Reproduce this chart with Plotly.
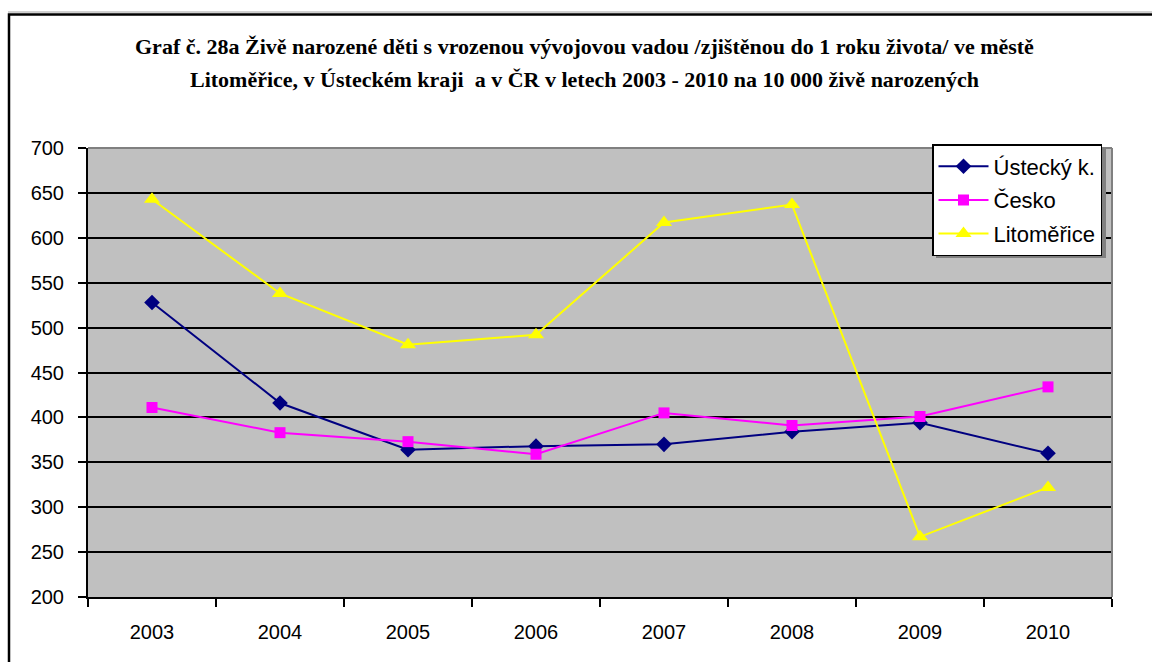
import plotly.graph_objects as go

years = ["2003", "2004", "2005", "2006", "2007", "2008", "2009", "2010"]
ustecky = [528, 416, 364, 368, 370, 384, 394, 360]
cesko = [411, 383, 373, 359, 405, 391, 401, 434]
litomerice = [643, 538, 481, 492, 617, 637, 267, 322]

W, H = 1152, 662
L, R, T, B = 88, 40, 148, 65
pw, ph = W - L - R, H - T - B


def px(x):
    return (x - L) / pw


def py(y):
    return (H - B - y) / ph


fig = go.Figure()
series = [
    ("Ústecký k.", ustecky, "#000080", "diamond", 12),
    ("Česko", cesko, "#FF00FF", "square", 11),
    ("Litoměřice", litomerice, "#FFFF00", "triangle-up", 14),
]
for i, (name, vals, col, sym, sz) in enumerate(series):
    fig.add_trace(go.Scatter(
        x=years, y=vals, name=name, mode="lines+markers",
        legendgroup=f"g{i}",
        line=dict(color=col, width=2),
        marker=dict(symbol=sym, size=sz, color=col, line=dict(width=0)),
    ))

title_lines = [
    "Graf č. 28a Živě narozené děti s vrozenou vývojovou vadou /zjištěnou do 1 roku života/ ve městě",
    "Litoměřice, v Ústeckém kraji  a v ČR v letech 2003 - 2010 na 10 000 živě narozených",
]
title_y = [46, 79]

shapes = [
    # outer frame with light shadow line
    dict(type="line", xref="paper", yref="paper", x0=px(8), x1=px(1160), y0=py(12), y1=py(12),
         line=dict(color="#A0A0A0", width=1)),
    dict(type="rect", xref="paper", yref="paper", x0=px(9), x1=px(1170), y0=py(14.5), y1=py(700),
         line=dict(color="black", width=2.5)),
    # plot area frame (top / right in grey)
    dict(type="line", xref="paper", yref="paper", x0=0, x1=1, y0=1, y1=1,
         line=dict(color="#808080", width=2), layer="above"),
    dict(type="line", xref="paper", yref="paper", x0=1, x1=1, y0=0, y1=1,
         line=dict(color="#808080", width=2), layer="above"),
    # legend shadow
    dict(type="rect", xref="paper", yref="paper", x0=px(936), x1=px(1106), y0=py(258), y1=py(148),
         fillcolor="#808080", line=dict(width=0), layer="above"),
]

annotations = [
    dict(text=f"<b>{t}</b>", xref="paper", yref="paper", x=px(584), y=py(yy),
         xanchor="center", yanchor="middle", showarrow=False,
         font=dict(family="Liberation Serif, Times New Roman, serif", size=22, color="black"))
    for t, yy in zip(title_lines, title_y)
]

fig.update_layout(
    width=W, height=H,
    margin=dict(l=L, r=R, t=T, b=B),
    paper_bgcolor="white",
    plot_bgcolor="#C0C0C0",
    font=dict(family="Liberation Sans, Arial, sans-serif", size=20, color="black"),
    shapes=shapes,
    annotations=annotations,
    legend=dict(
        x=px(932), y=py(144), xanchor="left", yanchor="top",
        bgcolor="white", bordercolor="black", borderwidth=1.5,
        font=dict(size=22), tracegroupgap=2, itemwidth=50,
    ),
    xaxis=dict(
        type="category", range=[-0.5, 7.5], tickson="boundaries",
        showgrid=False, showline=True, linecolor="black", linewidth=2,
        ticks="outside", ticklen=8, tickwidth=1.5, tickcolor="black",
        ticklabelstandoff=16, fixedrange=True,
    ),
    yaxis=dict(
        range=[200, 700], tick0=200, dtick=50,
        showgrid=True, gridcolor="black", gridwidth=2,
        showline=True, linecolor="black", linewidth=2, zeroline=False,
        ticks="outside", ticklen=8, tickwidth=1.5, tickcolor="black",
        ticklabelstandoff=10, fixedrange=True,
    ),
    showlegend=True,
)

fig.write_html("out.html")
